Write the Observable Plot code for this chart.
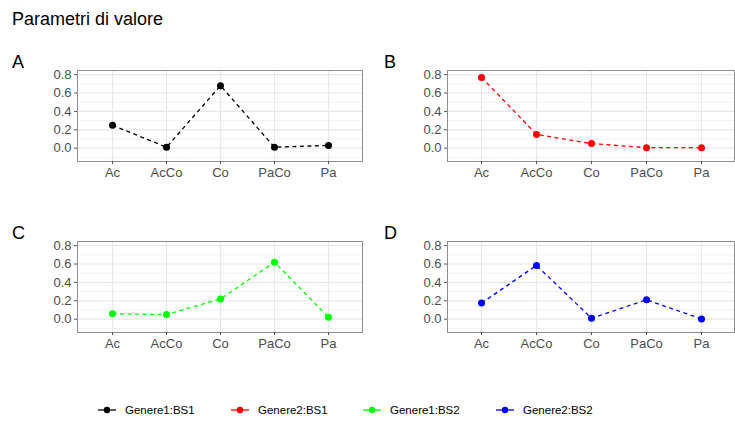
<!DOCTYPE html>
<html>
<head>
<meta charset="utf-8">
<script src="https://cdn.jsdelivr.net/npm/d3@7"></script>
<script src="https://cdn.jsdelivr.net/npm/@observablehq/plot@0.6"></script>
<style>
  html, body { margin: 0; padding: 0; background: #fff; }
  #root { position: relative; width: 735px; height: 423px; font-family: "Liberation Sans", Arial, sans-serif; overflow: hidden; }
  .title { position: absolute; left: 12px; top: 9px; font-size: 18px; color: #000; }
  .plab { position: absolute; font-size: 18px; color: #000; }
  .panel { position: absolute; }
  #legend { position: absolute; top: 401px; left: 0; width: 735px; height: 18px; font-size: 11.5px; color: #000; }
  .item { position: absolute; top: 0; display: flex; align-items: center; height: 18px; }
  .item svg { margin-right: 9px; }
</style>
</head>
<body>
<div id="root">
  <div class="title">Parametri di valore</div>
</div>
<script>
const categories = ["Ac", "AcCo", "Co", "PaCo", "Pa"];
const panelLabels = ["A", "B", "C", "D"];
const seriesNames = ["Genere1:BS1", "Genere2:BS1", "Genere1:BS2", "Genere2:BS2"];
const seriesColors = ["#000000", "#ff0000", "#00ff00", "#0000ff"];
const valuesA = [0.25, 0.01, 0.68, 0.01, 0.03];
const valuesB = [0.77, 0.15, 0.05, 0.005, 0.005];
const valuesC = [0.06, 0.05, 0.22, 0.62, 0.02];
const valuesD = [0.175, 0.585, 0.01, 0.21, 0.003];
const yMajor = [0, 0.2, 0.4, 0.6, 0.8];
const yMinor = [-0.1, 0.1, 0.3, 0.5, 0.7];

const seriesValues = [valuesA, valuesB, valuesC, valuesD];
const root = document.getElementById("root");

const layout = [
  {left: 0, top: 55, width: 367, mr: 5, lx: 12, ly: 52},
  {left: 370, top: 55, width: 365, mr: 1, lx: 384, ly: 52},
  {left: 0, top: 226, width: 367, mr: 5, lx: 12, ly: 223},
  {left: 370, top: 226, width: 365, mr: 1, lx: 384, ly: 223}
];

seriesValues.forEach((vals, i) => {
  const L = layout[i];
  const data = categories.map((c, j) => ({cat: c, v: vals[j]}));
  const color = seriesColors[i];
  const chart = Plot.plot({
    width: L.width,
    height: 135,
    marginLeft: 77,
    marginRight: L.mr,
    marginTop: 15,
    marginBottom: 29,
    style: {fontFamily: "Liberation Sans, Arial, sans-serif", fontSize: "13px", color: "#4d4d4d", background: "white"},
    x: {type: "point", domain: categories, padding: 0.6, label: null},
    y: {domain: [-0.145, 0.845], label: null},
    marks: [
      Plot.ruleY(yMinor, {stroke: "#f3f3f3", strokeWidth: 1}),
      Plot.ruleY(yMajor, {stroke: "#e8e8e8", strokeWidth: 1.2}),
      Plot.ruleX(categories, {stroke: "#e8e8e8", strokeWidth: 1.2}),
      Plot.frame({stroke: "#8f8f8f", strokeWidth: 1}),
      Plot.axisX({tickSize: 3, tickPadding: 3, stroke: "#555", fill: "#4d4d4d", fontSize: 13}),
      Plot.axisY({ticks: yMajor, tickFormat: d3.format(".1f"), tickSize: 3, tickPadding: 3, stroke: "#555", fill: "#4d4d4d", fontSize: 13}),
      Plot.lineY(data, {x: "cat", y: "v", stroke: color, strokeWidth: 1.3, strokeDasharray: "4,3.5", strokeLinecap: "butt"}),
      Plot.dot(data, {x: "cat", y: "v", fill: color, r: 3.5})
    ]
  });
  const wrap = document.createElement("div");
  wrap.className = "panel";
  wrap.style.left = L.left + "px";
  wrap.style.top = L.top + "px";
  wrap.appendChild(chart);
  root.appendChild(wrap);
  const lab = document.createElement("div");
  lab.className = "plab";
  lab.style.left = L.lx + "px";
  lab.style.top = L.ly + "px";
  lab.textContent = panelLabels[i];
  root.appendChild(lab);
});

const legend = document.createElement("div");
legend.id = "legend";
const legendX = [98, 231, 363, 496];
seriesNames.forEach((name, i) => {
  const item = document.createElement("div");
  item.className = "item";
  item.style.left = legendX[i] + "px";
  const s = d3.create("svg").attr("width", 18).attr("height", 18);
  s.append("line").attr("x1", 0).attr("x2", 18).attr("y1", 9).attr("y2", 9).attr("stroke", seriesColors[i]).attr("stroke-width", 1.3);
  s.append("circle").attr("cx", 9).attr("cy", 9).attr("r", 3.2).attr("fill", seriesColors[i]);
  item.appendChild(s.node());
  const t = document.createElement("span");
  t.textContent = name;
  item.appendChild(t);
  legend.appendChild(item);
});
root.appendChild(legend);
</script>
</body>
</html>
